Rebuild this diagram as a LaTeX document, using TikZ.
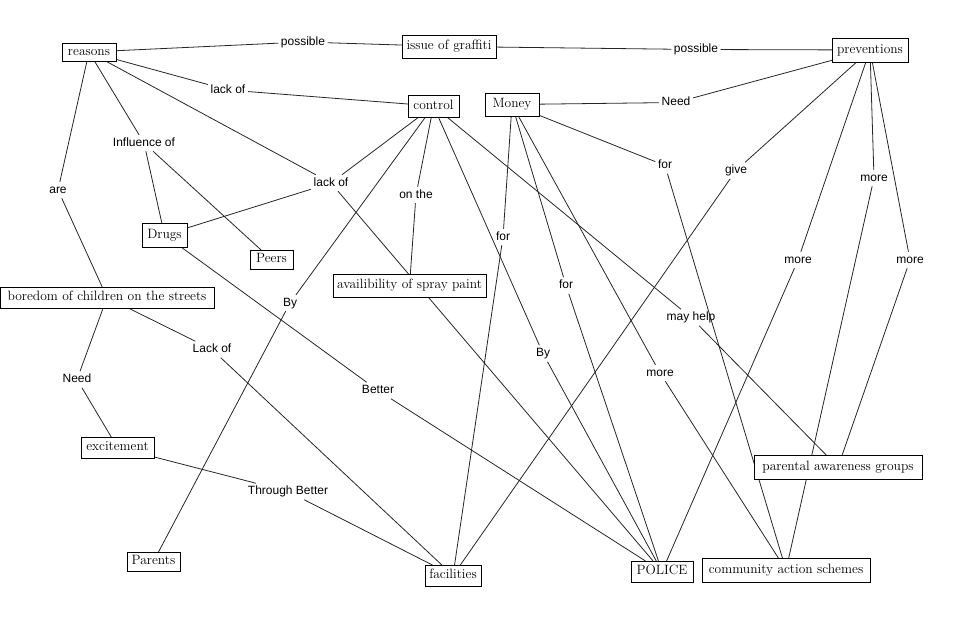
\documentclass[tikz,border=0pt]{standalone}
\usepackage{fontspec}
\newfontfamily\lblfont{Liberation Sans}
\usetikzlibrary{backgrounds}
\begin{document}
\begin{tikzpicture}[x=1pt,y=-1pt,
  cbox/.style={draw=black, line width=0.8pt, fill=white, font=\fontsize{13.5}{16}\selectfont,
    inner xsep=3pt, inner ysep=0pt, text height=9.3pt, text depth=2.6pt, outer sep=0pt},
  lbl/.style={font=\fontsize{12}{14}\selectfont\lblfont, inner sep=2.5pt, text height=8.6pt, text depth=2.5pt},
  conn/.style={line width=0.8pt, draw=black!85}]
\useasboundingbox (0,0) rectangle (968,626);
% concept boxes
\node[cbox, minimum width=54pt, minimum height=18pt] (reasons) at (89,52) {reasons};
\node[cbox, minimum width=94pt, minimum height=23pt] (issue) at (449,46.5) {issue of graffiti};
\node[cbox, minimum width=76pt, minimum height=24pt] (prev) at (870,50) {preventions};
\node[cbox, minimum width=51pt, minimum height=22pt] (control) at (433.5,106) {control};
\node[cbox, minimum width=54pt, minimum height=23pt] (money) at (512,104.5) {Money};
\node[cbox, minimum width=45pt, minimum height=24pt] (drugs) at (164.5,235) {Drugs};
\node[cbox, minimum width=43pt, minimum height=19pt] (peers) at (271.5,259.5) {Peers};
\node[cbox, minimum width=153pt, minimum height=23pt] (avail) at (409.5,285.5) {availibility of spray paint};
\node[cbox, minimum width=214pt, minimum height=21pt] (bored) at (107,297.5) {boredom of children on the streets};
\node[cbox, minimum width=73pt, minimum height=21pt] (excite) at (117.5,447.5) {excitement};
\node[cbox, minimum width=53pt, minimum height=19pt] (parents) at (153.5,561.5) {Parents};
\node[cbox, minimum width=56pt, minimum height=21pt] (facil) at (453,575.5) {facilities};
\node[cbox, minimum width=62pt, minimum height=21pt] (police) at (662,571.5) {POLICE};
\node[cbox, minimum width=168pt, minimum height=24pt] (comm) at (786,570) {community action schemes};
\node[cbox, minimum width=168pt, minimum height=24pt] (pag) at (838,467) {parental awareness groups};
% linking phrases
\node[lbl] (l1) at (303,42) {possible};
\node[lbl] (l2) at (696,49.5) {possible};
\node[lbl] (l3) at (228,90) {lack of};
\node[lbl] (l4) at (144,143) {Influence of};
\node[lbl] (l5) at (58,190) {are};
\node[lbl] (l6) at (331,183) {lack of};
\node[lbl] (l7) at (416,195) {on the};
\node[lbl] (l8) at (290,303) {By};
\node[lbl] (l9) at (676,102.5) {Need};
\node[lbl] (l10) at (665,165.5) {for};
\node[lbl] (l11) at (736,170.5) {give};
\node[lbl] (l12) at (874,178) {more};
\node[lbl] (l13) at (798,260) {more};
\node[lbl] (l14) at (910,260) {more};
\node[lbl] (l15) at (503,237) {for};
\node[lbl] (l16) at (566,285.5) {for};
\node[lbl] (l17) at (691,317.5) {may help};
\node[lbl] (l18) at (543,353.5) {By};
\node[lbl] (l19) at (660,373) {more};
\node[lbl] (l20) at (378,390.5) {Better};
\node[lbl] (l21) at (212,349.5) {Lack of};
\node[lbl] (l22) at (77,379.5) {Need};
\node[lbl] (l23) at (288,491.5) {Through Better};
% connectors
\begin{scope}[on background layer]
\draw[conn] (reasons) -- (l1);  \draw[conn] (l1) -- (issue);
\draw[conn] (issue) -- (l2);    \draw[conn] (l2) -- (prev);
\draw[conn] (reasons) -- (l3);  \draw[conn] (l3) -- (control);
\draw[conn] (reasons) -- (l4);  \draw[conn] (l4) -- (drugs);  \draw[conn] (l4) -- (peers);
\draw[conn] (reasons) -- (l5);  \draw[conn] (l5) -- (bored);
\draw[conn] (reasons) -- (l6);  \draw[conn] (control) -- (l6);
\draw[conn] (l6) -- (drugs);    \draw[conn] (l6) -- (police);
\draw[conn] (control) -- (l7);  \draw[conn] (l7) -- (avail);
\draw[conn] (control) -- (l8);  \draw[conn] (l8) -- (parents);
\draw[conn] (control) -- (l18); \draw[conn] (l18) -- (police);
\draw[conn] (control) -- (l17); \draw[conn] (l17) -- (pag);
\draw[conn] (prev) -- (l9);     \draw[conn] (l9) -- (money);
\draw[conn] (money) -- (l10);   \draw[conn] (l10) -- (comm);
\draw[conn] (money) -- (l15);   \draw[conn] (l15) -- (facil);
\draw[conn] (money) -- (l16);   \draw[conn] (l16) -- (police);
\draw[conn] (money) -- (l19);   \draw[conn] (l19) -- (comm);
\draw[conn] (prev) -- (l11);    \draw[conn] (l11) -- (facil);
\draw[conn] (prev) -- (l13);    \draw[conn] (l13) -- (police);
\draw[conn] (prev) -- (l12);    \draw[conn] (l12) -- (comm);
\draw[conn] (prev) -- (l14);    \draw[conn] (l14) -- (pag);
\draw[conn] (drugs) -- (l20);   \draw[conn] (l20) -- (police);
\draw[conn] (bored) -- (l21);   \draw[conn] (l21) -- (facil);
\draw[conn] (bored) -- (l22);   \draw[conn] (l22) -- (excite);
\draw[conn] (excite) -- (l23);  \draw[conn] (l23) -- (facil);
\end{scope}
\end{tikzpicture}
\end{document}
